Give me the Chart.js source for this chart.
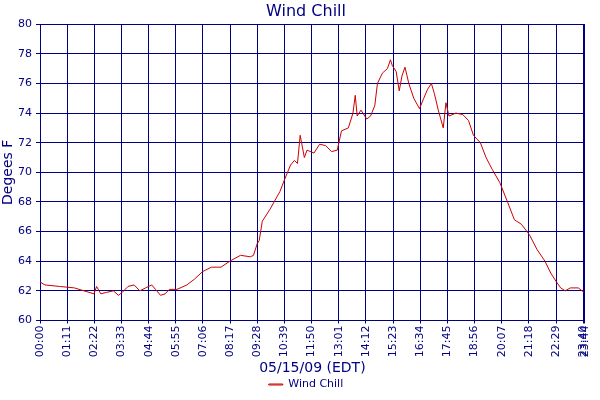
<!DOCTYPE html>
<html>
<head>
<script src="https://cdn.jsdelivr.net/npm/chart.js@4"></script>
<style>body{margin:0;background:#fff}#wrap{width:600px;height:400px}</style>
</head>
<body>
<div id="wrap"><canvas id="c"></canvas></div>
<script>
// minutes after midnight, 05/15/09
var minutes = [0,13,51,90,115,128,141,148,159,174,192,205,215,230,246,261,276,292,302,315,327,338,358,384,404,425,448,473,496,524,550,558,568,573,581,601,627,639,655,665,673,680,691,698,716,731,747,762,777,788,806,818,824,829,839,854,864,875,882,895,908,916,921,931,939,946,954,964,977,992,1003,1013,1023,1031,1041,1054,1061,1069,1087,1105,1120,1133,1151,1166,1182,1202,1222,1240,1258,1279,1299,1320,1335,1350,1361,1373,1386,1407,1422];
var windChill = [62.6,62.4,62.3,62.2,62.0,61.9,61.8,62.3,61.8,61.9,62.0,61.7,61.9,62.3,62.4,62.0,62.2,62.4,62.1,61.7,61.8,62.1,62.1,62.4,62.8,63.3,63.6,63.6,64.0,64.4,64.3,64.4,65.2,65.4,66.7,67.5,68.7,69.5,70.5,70.8,70.6,72.5,71.0,71.5,71.3,71.9,71.8,71.4,71.5,72.8,73.0,74.0,75.2,73.8,74.2,73.6,73.8,74.5,76.0,76.7,77.0,77.6,77.2,76.8,75.5,76.5,77.1,76.0,75.0,74.3,75.0,75.6,76.0,75.3,74.2,73.0,74.7,73.8,74.0,73.9,73.5,72.5,72.0,71.0,70.2,69.3,68.0,66.8,66.5,65.8,64.8,64.0,63.2,62.6,62.2,62.0,62.2,62.2,61.9];
var xTicks = [0,71,142,213,284,355,426,497,568,639,710,781,852,923,994,1065,1136,1207,1278,1349,1420,1424];

var navy = '#000080';
var font = {family: 'DejaVu Sans', size: 11};
function hhmm(m) {
  var h = Math.floor(m / 60), mm = m % 60;
  return (h < 10 ? '0' : '') + h + ':' + (mm < 10 ? '0' : '') + mm;
}

new Chart(document.getElementById('c'), {
  type: 'line',
  data: {
    datasets: [{
      label: 'Wind Chill',
      data: minutes.map(function (m, i) { return {x: m, y: windChill[i]}; }),
      borderColor: '#cc0000',
      borderWidth: 1,
      pointRadius: 0,
      tension: 0
    }]
  },
  options: {
    responsive: true,
    maintainAspectRatio: false,
    animation: false,
    layout: {padding: {top: 0, right: -12, left: 0, bottom: 0}},
    plugins: {
      title: {display: true, text: 'Wind Chill', color: navy, font: {family: 'DejaVu Sans', size: 16, weight: 'normal'}, padding: {top: 2, bottom: 3}},
      legend: {
        position: 'bottom',
        labels: {color: navy, font: font, boxWidth: 14, boxHeight: 1, padding: 2}
      },
      tooltip: {enabled: false}
    },
    scales: {
      x: {
        type: 'linear', min: 0, max: 1424,
        afterBuildTicks: function (s) { s.ticks = xTicks.map(function (v) { return {value: v}; }); },
        ticks: {color: navy, font: font, maxRotation: 90, minRotation: 90, autoSkip: false, padding: 2,
          callback: function (v) { return hhmm(v); }},
        grid: {color: navy, lineWidth: 1, drawTicks: true, tickLength: 3},
        border: {color: navy},
        title: {display: true, text: '05/15/09 (EDT)', color: navy, font: {family: 'DejaVu Sans', size: 14}, padding: {top: 1, bottom: 0}}
      },
      y: {
        min: 60, max: 80,
        ticks: {stepSize: 2, color: navy, font: font, padding: 4},
        grid: {color: navy, lineWidth: 1, tickLength: 4},
        border: {color: navy},
        afterFit: function (s) { s.width = 40; },
        title: {display: true, text: 'Degees F', color: navy, font: {family: 'DejaVu Sans', size: 14}, padding: 0}
      }
    }
  }
});
</script>
</body>
</html>
